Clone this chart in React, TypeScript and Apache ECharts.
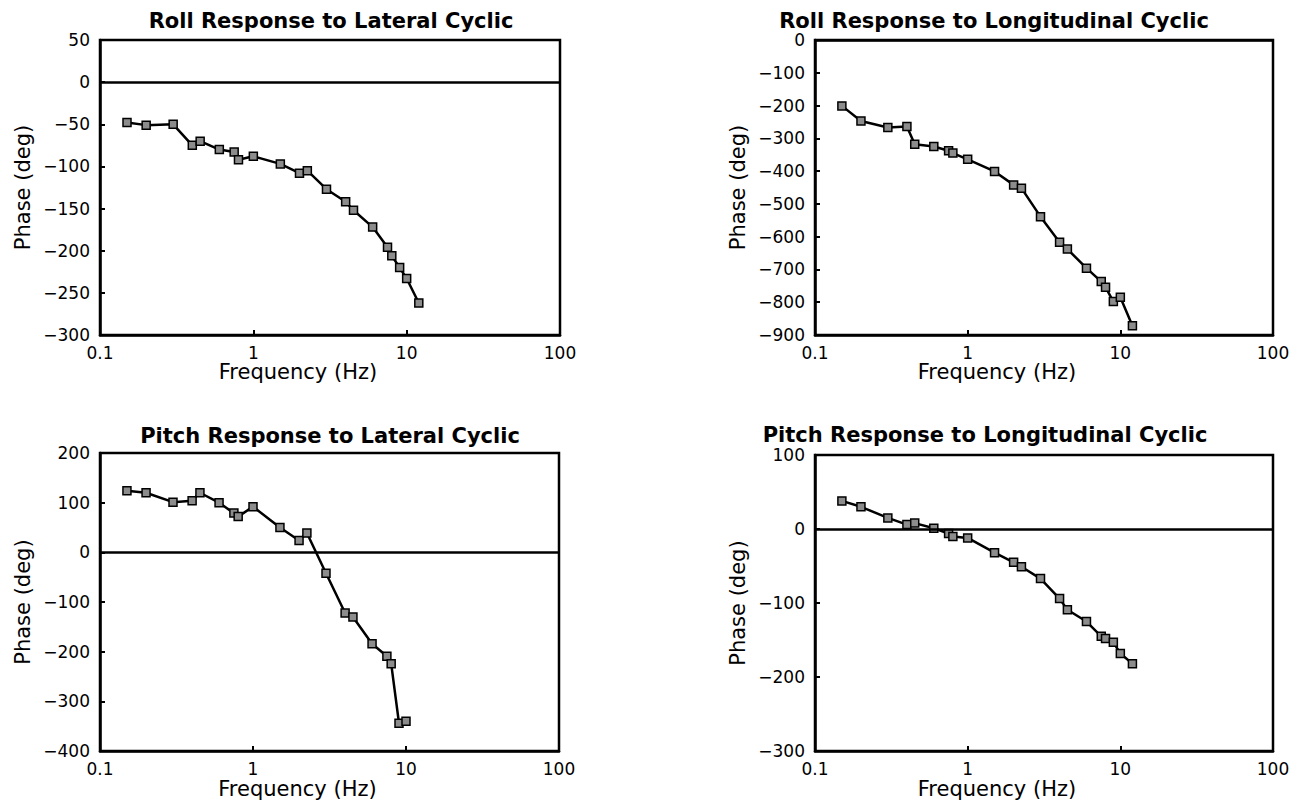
import React, { useEffect, useRef } from "react";
import * as echarts from "echarts";

const freqs = [0.15, 0.2, 0.3, 0.4, 0.45, 0.6, 0.75, 0.8, 1, 1.5, 2, 2.25, 3, 4, 4.5, 6, 7.5, 8, 9, 10, 12];
const rollLateral = [-48, -51, -50, -75, -70, -80, -83, -92, -88, -97, -108, -105, -127, -142, -152, -172, -196, -206, -220, -233, -262];
const rollLongitudinal = [-201, -247, -267, -264, -318, -325, -338, -345, -364, -401, -442, -452, -539, -617, -638, -696, -737, -754, -798, -785, -872];
const pitchLateral = [124, 120, 101, 104, 120, 100, 79, 72, 92, 50, 24, 39, -42, -122, -130, -184, -209, -224, -344, -340];
const pitchLongitudinal = [38, 30, 15, 6, 8, 1, -6, -10, -12, -32, -45, -51, -67, -94, -109, -125, -145, -148, -153, -168, -182];

const titles = [
  "Roll Response to Lateral Cyclic",
  "Roll Response to Longitudinal Cyclic",
  "Pitch Response to Lateral Cyclic",
  "Pitch Response to Longitudinal Cyclic",
];
const yRanges = [
  { min: -300, max: 50, interval: 50 },
  { min: -900, max: 0, interval: 100 },
  { min: -400, max: 200, interval: 100 },
  { min: -300, max: 100, interval: 100 },
];
const seriesValues = [rollLateral, rollLongitudinal, pitchLateral, pitchLongitudinal];

const FONT = "DejaVu Sans";

export default function App() {
  const ref = useRef<HTMLDivElement>(null);
  useEffect(() => {
    document.body.style.margin = "0";
    if (!ref.current) return;
    const chart = echarts.init(ref.current, undefined, { renderer: "svg" });

    const grids = [
      { left: 100, top: 40, width: 460, height: 295 },
      { left: 815, top: 40, width: 458, height: 295 },
      { left: 100, top: 453, width: 459, height: 299 },
      { left: 815, top: 455, width: 458, height: 297 },
    ];
    const titleCenters = [331, 994, 330, 985];
    const titleTops = [10, 10, 425, 424];
    const nameShift = [64, 94, 64, 94];

    const fmtY = (v: number) => (v < 0 ? "\u2212" + Math.abs(v) : String(v));
    const fmtX = (v: number) => String(+(+v).toPrecision(6));

    const option: any = {
      animation: false,
      backgroundColor: "#fff",
      title: titles.map((t, i) => ({
        text: t,
        left: titleCenters[i],
        top: titleTops[i],
        padding: 0,
        textAlign: "center",
        textStyle: { fontFamily: FONT, fontWeight: "bold", fontSize: 21, lineHeight: 21, color: "#000" },
      })),
      grid: grids.map((g) => ({
        ...g,
        show: true,
        borderColor: "#000",
        borderWidth: 2.5,
        backgroundColor: "transparent",
        containLabel: false,
      })),
      xAxis: grids.map((_, i) => ({
        type: "log",
        logBase: 10,
        gridIndex: i,
        min: 0.1,
        max: 100,
        name: "Frequency (Hz)",
        nameLocation: "middle",
        nameGap: 23,
        nameTextStyle: {
          fontFamily: FONT,
          fontSize: 21,
          color: "#000",
          verticalAlign: "top",
          padding: [0, nameShift[i], 0, 0],
        },
        axisLine: { show: true, onZero: false, lineStyle: { color: "#000", width: 2.5 } },
        axisTick: { show: true, inside: true, length: 5, lineStyle: { color: "#000", width: 2 } },
        minorTick: { show: false },
        splitLine: { show: false },
        axisLabel: { fontFamily: FONT, fontSize: 17, lineHeight: 17, color: "#000", margin: 9, formatter: fmtX },
      })),
      yAxis: grids.map((_, i) => ({
        type: "value",
        gridIndex: i,
        min: yRanges[i].min,
        max: yRanges[i].max,
        interval: yRanges[i].interval,
        name: "Phase (deg)",
        nameLocation: "middle",
        nameGap: 67,
        nameTextStyle: { fontFamily: FONT, fontSize: 21, color: "#000" },
        axisLine: { show: true, lineStyle: { color: "#000", width: 2.5 } },
        axisTick: { show: true, inside: true, length: 5, lineStyle: { color: "#000", width: 2 } },
        splitLine: { show: false },
        axisLabel: { fontFamily: FONT, fontSize: 17, lineHeight: 16, color: "#000", margin: 10, formatter: fmtY },
      })),
      series: seriesValues.map((vals, i) => ({
        type: "line",
        xAxisIndex: i,
        yAxisIndex: i,
        data: vals.map((v, k) => [freqs[k], v]),
        symbol: "rect",
        symbolSize: 8,
        showAllSymbol: true,
        lineStyle: { color: "#000", width: 2.5 },
        itemStyle: { color: "#8c8c8c", borderColor: "#000", borderWidth: 1.5 },
        markLine: {
          silent: true,
          symbol: "none",
          label: { show: false },
          lineStyle: { color: "#000", width: 2.5, type: "solid" },
          data: [{ yAxis: 0 }],
        },
        z: 3,
      })),
    };
    chart.setOption(option);
    return () => chart.dispose();
  }, []);
  return <div ref={ref} style={{ width: 1309, height: 800 }} />;
}
